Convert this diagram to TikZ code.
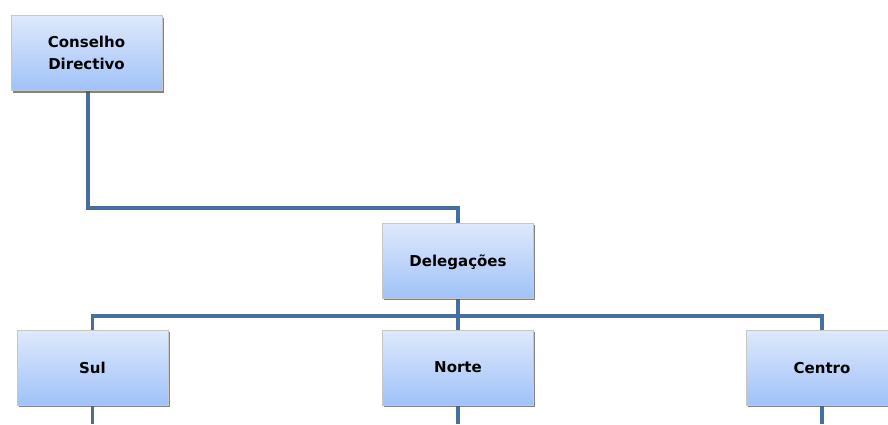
\documentclass[tikz,border=0pt]{standalone}
\usepackage{fontspec}
\setmainfont{DejaVu Sans}
\usetikzlibrary{positioning, shadows, backgrounds}

\definecolor{linkblue}{RGB}{70,110,160}
\definecolor{boxtop}{RGB}{222,233,252}
\definecolor{boxbot}{RGB}{160,194,248}

\tikzset{
	unit/.style={draw=black!22, line width=0.6pt, top color=boxtop, bottom color=boxbot,
		minimum width=151pt, minimum height=75pt, align=center, inner sep=0pt,
		font=\bfseries\fontsize{15}{22}\selectfont, text depth=-3pt,
		drop shadow={shadow xshift=1.5pt, shadow yshift=-2pt, fill=black!65, opacity=0.75}},
	link/.style={draw=linkblue, line width=3.8pt}
}

\begin{document}
\begin{tikzpicture}[x=1pt, y=-1pt, node distance=19pt]
	\useasboundingbox (0,0) rectangle (888,424);
	\node[unit] (cd) at (86.5,53) {Conselho\\Directivo};
	\node[unit] (deleg) at (458,260.5) {Delegações};
	\node[unit] (sul) at (92.5,367.5) {Sul};
	\node[unit] (norte) at (458,367.5) {Norte};
	\node[unit] (centro) at (822,367.5) {Centro};
	\coordinate[below =of sul.south] (sulend);
	\coordinate[below =of norte.south] (norteend);
	\coordinate[below =of centro.south] (centroend);
	% ligacoes
	\begin{pgfonlayer}{background}
	\draw[link] (cd.south -| 88,0) |- (458,208) -- (deleg.north);
	\draw[link] (deleg.south) -- (458,316);
	\draw[link] (sul.north) |- (458,316) -| (centro.north);
	\draw[link] (458,316) -- (norte.north);
	\draw[link] (sul.south) -- (sulend);
	\draw[link] (norte.south) -- (norteend);
	\draw[link] (centro.south) -- (centroend);
	\end{pgfonlayer}
\end{tikzpicture}
\end{document}
